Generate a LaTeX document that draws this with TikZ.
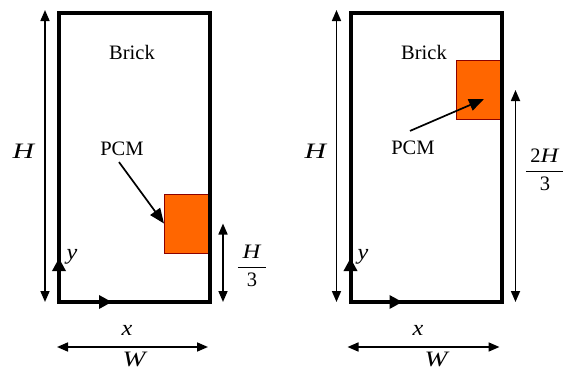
\documentclass[tikz,border=0pt]{standalone}
\usepackage{amsmath}
\usepackage{graphicx}
\usepackage{fontspec}
\setmainfont{Liberation Serif}
\usetikzlibrary{arrows.meta}
\definecolor{pcmorange}{HTML}{FF6600}
\definecolor{pcmred}{HTML}{8B0000}
\newcommand{\wideit}[2]{\scalebox{#1}[1]{\textit{#2}}}
\begin{document}
\begin{tikzpicture}[x=1pt, y=-1pt,
    wall/.style={draw, line width=4pt, minimum width=151pt, minimum height=289pt, outer sep=0pt, inner sep=0pt},
    pcm/.style={draw=pcmred, fill=pcmorange, line width=1pt, minimum width=45pt, minimum height=59pt, outer sep=0pt, inner sep=0pt},
    lbl/.style={font=\fontsize{20.5}{23}\selectfont, inner sep=0pt},
    sym/.style={font=\fontsize{22}{25}\selectfont, inner sep=0pt},
    dim/.style={line width=1.7pt, {Triangle[length=11pt,width=9pt]}-{Triangle[length=11pt,width=9pt]}},
    pointer/.style={line width=1.7pt, -{Triangle[length=15pt,width=12pt]}},
    axis/.style={line width=4pt, -{Triangle[length=13pt,width=13pt]}}]
    \useasboundingbox (0,0) rectangle (563,372);

    % Left case: PCM low on the wall
    \node[pcm] (boxL) at (186.5,223.5) {};
    \node[wall] (brickL) at (134.5,157.5) {};
    \node[lbl] (brickLtext) at (132,52) {Brick};
    \node[lbl] (pcmL) at (122,149) {PCM};
    \draw[pointer] ([xshift=-3pt,yshift=-6pt]pcmL.south) -- (boxL.west);

    % axes
    \draw[axis] ([yshift=20pt]brickL.south west) -- ([yshift=44pt]brickL.south west);
    \draw[axis] ([xshift=20pt]brickL.south west) -- ([xshift=53pt]brickL.south west);
    \node[sym] (yL) at (72,257) {\wideit{1.1}{y}};
    \node[sym] (xL) at (127,330) {\wideit{1.1}{x}};

    % dimensions
    \draw[dim] ([xshift=-14pt,yshift=3pt]brickL.north west) -- ([xshift=-14pt]brickL.south west);
    \node[sym] (hL) at (24,151) {\wideit{1.35}{H}};
    \draw[dim] ([xshift=-2pt,yshift=-45pt]brickL.south west) -- ([xshift=-2pt,yshift=-45pt]brickL.south east);
    \node[sym] (wL) at (135,359) {\wideit{1.25}{W}};
    \draw[dim] ([xshift=14pt]boxL.east) -- ([xshift=13pt]brickL.south east);
    \node[lbl] (fracL) at (252,266) {$\dfrac{\mkern4mu\text{\wideit{1.2}{H}}\mkern4mu}{\text{3}}$};

    % Right case: PCM high on the wall
    \node[pcm] (boxR) at (479,90) {};
    \node[wall] (brickR) at (426,157.5) {};
    \node[lbl] (brickRtext) at (424,52) {Brick};
    \node[lbl] (pcmR) at (413,148) {PCM};
    \draw[pointer] ([xshift=-3pt,yshift=10pt]pcmR.north) -- ([xshift=5pt,yshift=-9pt]boxR.center);

    % axes
    \draw[axis] ([yshift=20pt]brickR.south west) -- ([yshift=44pt]brickR.south west);
    \draw[axis] ([xshift=20pt]brickR.south west) -- ([xshift=52pt]brickR.south west);
    \node[sym] (yR) at (363,257) {\wideit{1.1}{y}};
    \node[sym] (xR) at (418,330) {\wideit{1.1}{x}};

    % dimensions
    \draw[dim] ([xshift=-14pt,yshift=3pt]brickR.north west) -- ([xshift=-14pt]brickR.south west);
    \node[sym] (hR) at (316,151) {\wideit{1.35}{H}};
    \draw[dim] ([xshift=-3pt,yshift=-45pt]brickR.south west) -- ([xshift=-2pt,yshift=-45pt]brickR.south east);
    \node[sym] (wR) at (437,359) {\wideit{1.25}{W}};
    \draw[dim] ([xshift=14pt]boxR.east) -- ([xshift=14pt]brickR.south east);
    \node[lbl] (fracR) at (545,170) {$\dfrac{\mkern4mu\text{2\wideit{1.2}{H}}\mkern4mu}{\text{3}}$};
\end{tikzpicture}
\end{document}
